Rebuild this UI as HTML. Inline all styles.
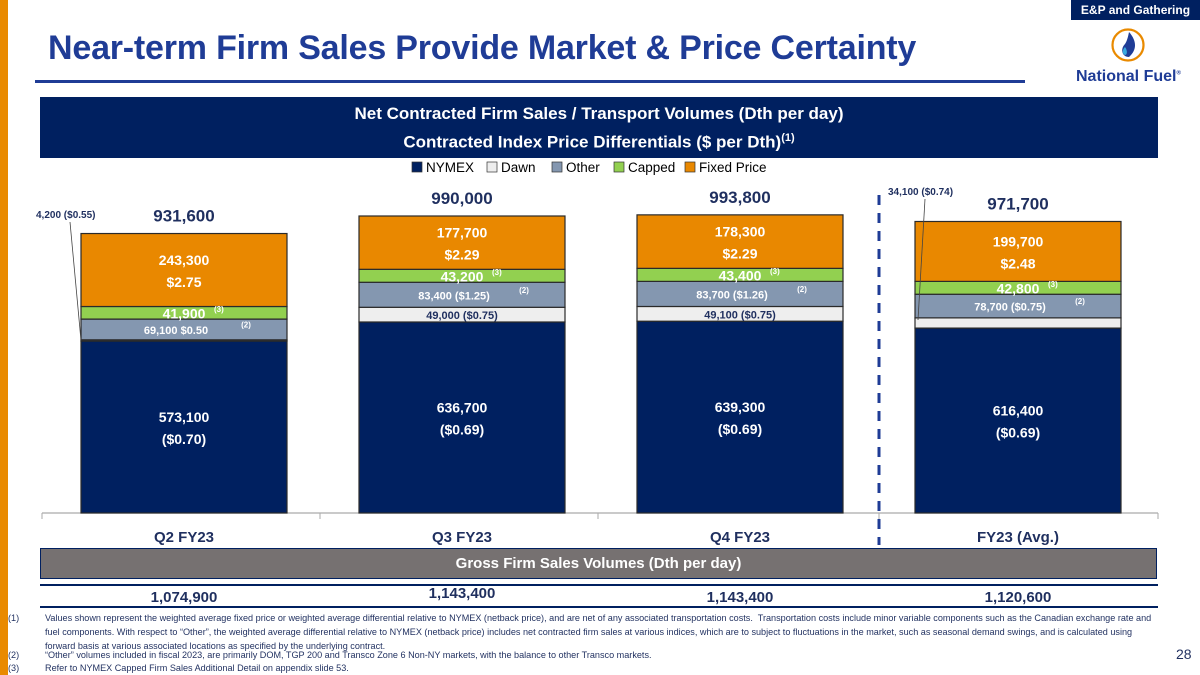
<!DOCTYPE html>
<html><head><meta charset="utf-8"><style>
body{margin:0;width:1200px;height:675px;overflow:hidden;background:#fff;font-family:"Liberation Sans",sans-serif;position:relative}
.abs{position:absolute}
.fn{position:absolute;left:8px;font-size:9.1px;color:#1f2f5f;line-height:14px;white-space:nowrap}
.fn span{position:absolute;left:0}
.fn div{position:absolute;left:37px}
</style></head><body>
<div class="abs" style="left:0;top:0;width:8px;height:675px;background:#e98a00"></div>
<div class="abs" style="left:1071px;top:0;width:129px;height:20px;background:#002060;color:#fff;font-size:12px;font-weight:bold;text-align:center;line-height:20px">E&amp;P and Gathering</div>
<div class="abs" style="left:48px;top:29px;font-size:34px;font-weight:bold;color:#1f3c96;white-space:nowrap;letter-spacing:-0.2px">Near-term Firm Sales Provide Market &amp; Price Certainty</div>
<div class="abs" style="left:35px;top:80px;width:990px;height:3px;background:#1f3c96"></div>
<svg class="abs" style="left:1110px;top:27px" width="36" height="36" viewBox="0 0 36 36"><circle cx="18" cy="18" r="15.5" fill="none" stroke="#e98a00" stroke-width="2.2"/><path d="M19 5 C27 14 27 23 19 30 C12 30 10 22 15 17 C17 14 18 10 19 5Z" fill="#1f3c96"/><path d="M15 20 C18 24 17 28 15 28 C12 27 12 23 15 20Z" fill="#39a9e0"/></svg>
<div class="abs" style="left:1076px;top:68px;font-size:16px;font-weight:bold;color:#1f3c96;white-space:nowrap">National Fuel<sup style="font-size:6px">®</sup></div>
<div class="abs" style="left:40px;top:97px;width:1118px;height:57px;background:#002060;color:#fff;font-weight:bold;font-size:17px;text-align:center;line-height:25px;padding-top:4px">Net Contracted Firm Sales / Transport Volumes (Dth per day)<br>Contracted Index Price Differentials ($ per Dth)<sup style="font-size:11px">(1)</sup></div>
<svg class="abs" id="chart" style="left:0;top:0" width="1200" height="545"></svg>
<div class="abs" style="left:40px;top:548px;width:1115px;height:29px;background:#767171;border:1.5px solid #002060;color:#fff;font-weight:bold;font-size:15px;text-align:center;line-height:29px">Gross Firm Sales Volumes (Dth per day)</div>
<div class="abs" style="left:40px;top:584px;width:1118px;height:2px;background:#002060"></div>
<div class="abs" style="left:40px;top:606px;width:1118px;height:1.5px;background:#002060"></div>
<div id="gross"></div>
<div class="fn" style="top:611px"><span>(1)</span><div>Values shown represent the weighted average fixed price or weighted average differential relative to NYMEX (netback price), and are net of any associated transportation costs.&nbsp; Transportation costs include minor variable components such as the Canadian exchange rate and<br>fuel components. With respect to “Other”, the weighted average differential relative to NYMEX (netback price) includes net contracted firm sales at various indices, which are to subject to fluctuations in the market, such as seasonal demand swings, and is calculated using<br>forward basis at various associated locations as specified by the underlying contract.</div></div>
<div class="fn" style="top:648px"><span>(2)</span><div>“Other” volumes included in fiscal 2023, are primarily DOM, TGP 200 and Transco Zone 6 Non-NY markets, with the balance to other Transco markets.</div></div>
<div class="fn" style="top:661px"><span>(3)</span><div>Refer to NYMEX Capped Firm Sales Additional Detail on appendix slide 53.</div></div>
<div class="abs" style="left:1176px;top:646px;font-size:14px;color:#1f2f5f">28</div>
<script>
const categories=["Q2 FY23","Q3 FY23","Q4 FY23","FY23 (Avg.)"];
const nymex=[573100,636700,639300,616400];
const nymexPrice=["($0.70)","($0.69)","($0.69)","($0.69)"];
const dawn=[4200,49000,49100,34100];
const dawnPrice=["($0.55)","($0.75)","($0.75)","($0.74)"];
const other=[69100,83400,83700,78700];
const otherPrice=["$0.50","($1.25)","($1.26)","($0.75)"];
const capped=[41900,43200,43400,42800];
const fixedVol=[243300,177700,178300,199700];
const fixedPrice=["$2.75","$2.29","$2.29","$2.48"];
const totals=[931600,990000,993800,971700];
const gross=[1074900,1143400,1143400,1120600];

const NS="http://www.w3.org/2000/svg";
const svg=document.getElementById('chart');
const base=513, k=0.0003;
const y=v=>base-v*k;
const xs=i=>81+i*278;
const bw=206;
const fmt=v=>v.toLocaleString('en-US');
function mk(t,a,p){const e=document.createElementNS(NS,t);for(const n in a)e.setAttribute(n,a[n]);(p||svg).appendChild(e);return e;}
function txt(x,yy,s,size,fill,anchor){const e=mk('text',{x:x,y:yy,'font-size':size,'font-weight':'bold',fill:fill,'text-anchor':anchor||'middle','font-family':'Liberation Sans, sans-serif'});e.textContent=s;return e;}
const leg=[["NYMEX","#002060"],["Dawn","#eeeeee"],["Other","#8497b0"],["Capped","#92d050"],["Fixed Price","#e98800"]];
const lx=[412,487,552,614,685];
leg.forEach((l,i)=>{const g=mk('g',{});


mk('rect',{x:lx[i],y:162,width:10,height:10,fill:l[1],stroke:'#333','stroke-width':0.7},g);
const t=mk('text',{x:lx[i]+14,y:172,'font-size':13.5,fill:'#000','font-family':'Liberation Sans, sans-serif'},g);t.textContent=l[0];});
const ax=mk('line',{x1:42,x2:1158,y1:513,y2:513,stroke:'#aaa','stroke-width':1.2});


[42,320,598,879,1158].forEach(t=>{mk('line',{x1:t,x2:t,y1:513,y2:519,stroke:'#aaa'});});
const dl=mk('line',{x1:879,x2:879,y1:195,y2:546,stroke:'#1f3c96','stroke-width':3,'stroke-dasharray':'10 8'});


const grossTop=[589,585,589,589];
categories.forEach((c,i)=>{
 const x=xs(i);let acc=0;
 const segs=[[nymex[i],'#002060','nymex'],[dawn[i],'#eeeeee','dawn'],[other[i],'#8497b0','other'],[capped[i],'#92d050','capped'],[fixedVol[i],'#e98800','fixed']];
 const tops=[];
 segs.forEach(s=>{const y0=y(acc),y1=y(acc+s[0]);
  const r=mk('rect',{x:x,y:y1,width:bw,height:y0-y1,fill:s[1],stroke:'#2a2a2a','stroke-width':1.2});
  
  
  tops.push([y1,y0]);acc+=s[0];});
 const cx=x+bw/2;
 const mid=j=>(tops[j][0]+tops[j][1])/2;
 txt(cx,mid(0)-5,fmt(nymex[i]),14,'#fff');
 txt(cx,mid(0)+17,nymexPrice[i],14,'#fff');
 if(i>0&&i<3){txt(cx,mid(1)+4.5,fmt(dawn[i])+'  '+dawnPrice[i],11,'#1f2f5f');}
 txt(cx-8,mid(2)+4.5,fmt(other[i])+'  '+otherPrice[i],11,'#fff');
 txt(cx+62,mid(2)-2,'(2)',8,'#fff');
 txt(cx,mid(3)+5.5,fmt(capped[i]),14,'#fff');
 txt(cx+30,mid(3)-1,'(3)',8,'#fff','start');
 txt(cx,mid(4)-5,fmt(fixedVol[i]),14,'#fff');
 txt(cx,mid(4)+17,fixedPrice[i],14,'#fff');
 const tt=txt(cx,y(totals[i])-12,fmt(totals[i]),17,'#1f2f5f');
 
 
 const cl=txt(cx,542,c,15,'#1f2f5f');
 
 
 const g=document.createElement('div');
 g.className='abs';g.textContent=fmt(gross[i]);
 g.style.cssText='left:'+(cx-80)+'px;top:'+grossTop[i]+'px;width:160px;text-align:center;font-size:15px;font-weight:bold;color:#1f2f5f';
 
 
 document.getElementById('gross').appendChild(g);
});
txt(36,218,fmt(dawn[0])+'  '+dawnPrice[0],10,'#1f2f5f','start');
mk('line',{x1:70,y1:222,x2:81,y2:y(nymex[0]+dawn[0]/2),stroke:'#444','stroke-width':0.8});
txt(888,195,fmt(dawn[3])+'  '+dawnPrice[3],10,'#1f2f5f','start');
mk('line',{x1:925,y1:199,x2:918,y2:y(nymex[3]+dawn[3]/2)-3,stroke:'#444','stroke-width':0.8});
</script>
</body></html>
